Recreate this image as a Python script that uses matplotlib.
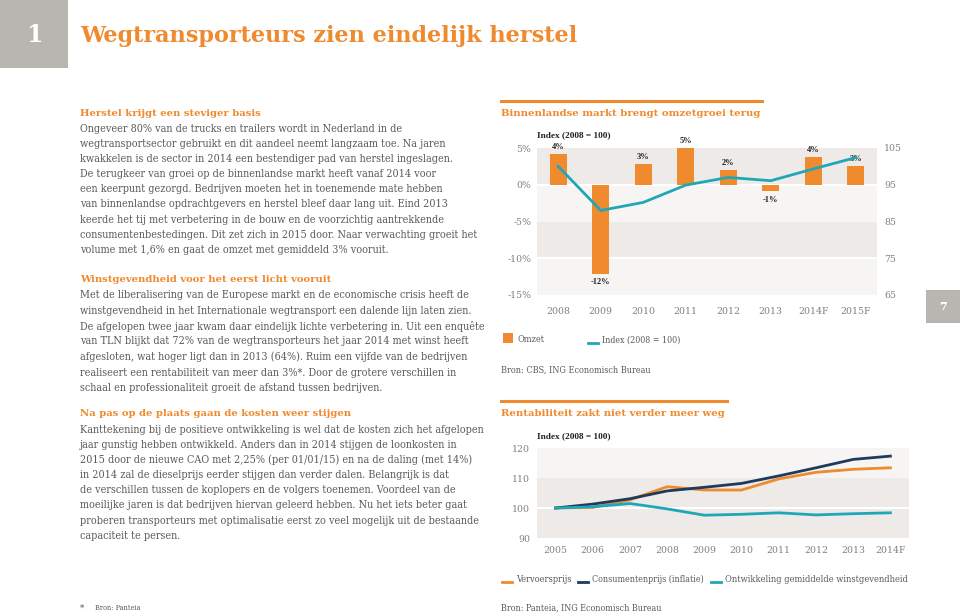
import matplotlib
matplotlib.use("Agg")
import matplotlib.pyplot as plt
from matplotlib import font_manager
from matplotlib.font_manager import FontProperties

W, H = 960, 616
ORANGE = "#EF8A2E"
TEAL = "#1FA7B8"
NAVY = "#1E3A5C"
BAND_D = "#EDEAE7"
BAND_L = "#F6F5F3"
TXT = "#5A5A5A"
TICK = "#808080"
SLAB = "DejaVu Serif"

_fp = font_manager.findfont(FontProperties(family="DejaVu Serif", stretch="condensed"))
if "Condensed" in _fp:
    BODY_KW = dict(family="DejaVu Serif", stretch="condensed")
else:
    BODY_KW = dict(family="Liberation Serif")

# ---------------- data ----------------
years1 = ["2008", "2009", "2010", "2011", "2012", "2013", "2014F", "2015F"]
omzet = [4.2, -12.1, 2.8, 5.0, 2.0, -0.9, 3.8, 2.6]
omzet_labels = ["4%", "-12%", "3%", "5%", "2%", "-1%", "4%", "3%"]
index1 = [100.0, 88.0, 90.2, 94.9, 97.0, 96.1, 99.3, 102.4]
left_ticks = [5, 0, -5, -10, -15]
right_ticks = [105, 95, 85, 75, 65]

years2 = ["2005", "2006", "2007", "2008", "2009", "2010", "2011", "2012", "2013", "2014F"]
vervoersprijs = [100.0, 100.2, 102.7, 107.1, 106.0, 106.0, 109.7, 111.9, 112.9, 113.4]
consumentenprijs = [100.0, 101.3, 103.1, 105.7, 106.9, 108.2, 110.7, 113.4, 116.2, 117.3]
winstgevendheid = [100.0, 100.4, 101.5, 99.7, 97.6, 97.9, 98.4, 97.7, 98.1, 98.4]
ticks2 = [90, 100, 110, 120]

title = "Wegtransporteurs zien eindelijk herstel"
sections = [
    ("Herstel krijgt een steviger basis", [
        "Ongeveer 80% van de trucks en trailers wordt in Nederland in de",
        "wegtransportsector gebruikt en dit aandeel neemt langzaam toe. Na jaren",
        "kwakkelen is de sector in 2014 een bestendiger pad van herstel ingeslagen.",
        "De terugkeer van groei op de binnenlandse markt heeft vanaf 2014 voor",
        "een keerpunt gezorgd. Bedrijven moeten het in toenemende mate hebben",
        "van binnenlandse opdrachtgevers en herstel bleef daar lang uit. Eind 2013",
        "keerde het tij met verbetering in de bouw en de voorzichtig aantrekkende",
        "consumentenbestedingen. Dit zet zich in 2015 door. Naar verwachting groeit het",
        "volume met 1,6% en gaat de omzet met gemiddeld 3% vooruit.",
    ]),
    ("Winstgevendheid voor het eerst licht vooruit", [
        "Met de liberalisering van de Europese markt en de economische crisis heeft de",
        "winstgevendheid in het Internationale wegtransport een dalende lijn laten zien.",
        "De afgelopen twee jaar kwam daar eindelijk lichte verbetering in. Uit een enquête",
        "van TLN blijkt dat 72% van de wegtransporteurs het jaar 2014 met winst heeft",
        "afgesloten, wat hoger ligt dan in 2013 (64%). Ruim een vijfde van de bedrijven",
        "realiseert een rentabiliteit van meer dan 3%*. Door de grotere verschillen in",
        "schaal en professionaliteit groeit de afstand tussen bedrijven.",
    ]),
    ("Na pas op de plaats gaan de kosten weer stijgen", [
        "Kanttekening bij de positieve ontwikkeling is wel dat de kosten zich het afgelopen",
        "jaar gunstig hebben ontwikkeld. Anders dan in 2014 stijgen de loonkosten in",
        "2015 door de nieuwe CAO met 2,25% (per 01/01/15) en na de daling (met 14%)",
        "in 2014 zal de dieselprijs eerder stijgen dan verder dalen. Belangrijk is dat",
        "de verschillen tussen de koplopers en de volgers toenemen. Voordeel van de",
        "moeilijke jaren is dat bedrijven hiervan geleerd hebben. Nu het iets beter gaat",
        "proberen transporteurs met optimalisatie eerst zo veel mogelijk uit de bestaande",
        "capaciteit te persen.",
    ]),
]

fig = plt.figure(figsize=(W / 100, H / 100), dpi=100)
fig.patch.set_facecolor("white")
renderer = fig.canvas.get_renderer()


def put(x, y, s, size, target_w=None, **kw):
    kw.setdefault("va", "center")
    t = fig.text(x / W, 1 - y / H, s, fontsize=size, **kw)
    if target_w:
        w = t.get_window_extent(renderer).width
        t.set_fontsize(size * target_w / w)
    return t


def px_rect(x0, y0, x1, y1):
    return [x0 / W, 1 - y1 / H, (x1 - x0) / W, (y1 - y0) / H]


def box(x0, y0, x1, y1, color):
    a = fig.add_axes(px_rect(x0, y0, x1, y1))
    a.set_facecolor(color)
    a.set_xticks([]); a.set_yticks([])
    for s in a.spines.values():
        s.set_visible(False)
    return a


def style_labels(labels):
    for lab in labels:
        lab.set_family(BODY_KW["family"])
        if "stretch" in BODY_KW:
            lab.set_stretch(BODY_KW["stretch"])


# ---------------- header ----------------
box(0, 0, 68, 68, "#B9B6B2")
put(34, 35, "1", 17, ha="center", color="white", family=SLAB, weight="bold")
put(80, 36, title, 16, target_w=498, color=ORANGE, family=SLAB, weight="bold")

# ---------------- left text column ----------------
starts = [(114, 129, 15.1), (279, 295, 15.5), (414, 430, 15.1)]
ref = put(80, 129, sections[0][1][0], 8, target_w=322, color=TXT, **BODY_KW)
body_size = ref.get_fontsize()
ref.remove()
head_ref = put(80, 114, sections[0][0], 8, target_w=181, color=ORANGE, family=SLAB, weight="bold")
head_size = head_ref.get_fontsize()
head_ref.remove()
for (hy, ly, sp), (head, lines) in zip(starts, sections):
    put(80, hy, head, head_size, color=ORANGE, family=SLAB, weight="bold")
    for i, line in enumerate(lines):
        put(80, ly + i * sp, line, body_size, color=TXT, **BODY_KW)

put(80, 608, "*", 7, color=TXT, **BODY_KW)
put(95, 608, "Bron: Panteia", 7, target_w=45, color=TXT, **BODY_KW)

# ---------------- chart 1 ----------------
fig.add_artist(plt.Line2D([501 / W, 762 / W], [1 - 101 / H] * 2, color=ORANGE, lw=2.2))
put(501, 114, "Binnenlandse markt brengt omzetgroei terug", head_size, target_w=260,
    color=ORANGE, family=SLAB, weight="bold")

ax1 = fig.add_axes(px_rect(537, 148, 877, 295))
ax1.set_xlim(-0.5, len(years1) - 0.5)
ax1.set_ylim(-15, 5)
ax1.axhspan(0, 5, color=BAND_D, lw=0)
ax1.axhspan(-5, 0, color=BAND_L, lw=0)
ax1.axhspan(-10, -5, color=BAND_D, lw=0)
ax1.axhspan(-15, -10, color=BAND_L, lw=0)
for yv in (0, -10):
    ax1.axhline(yv, color="white", lw=1.5)
x1 = list(range(len(years1)))
ax1.bar(x1, omzet, width=0.4, color=ORANGE, zorder=3)
for xi, v, lab in zip(x1, omzet, omzet_labels):
    ax1.annotate(lab, (xi, v), xytext=(0, 2 if v >= 0 else -3), textcoords="offset points",
                 ha="center", va="bottom" if v >= 0 else "top", fontsize=6,
                 family="Liberation Serif", weight="bold", color="#222222", zorder=5)
ax1.set_yticks(left_ticks)
ax1.set_yticklabels([f"{t}%" for t in left_ticks])
ax1.set_xticks(x1)
ax1.set_xticklabels(years1)
ax1.tick_params(length=0, labelsize=7.5, colors=TICK, pad=4)
ax1.tick_params(axis="x", pad=9)
for s in ax1.spines.values():
    s.set_visible(False)
style_labels(ax1.get_xticklabels() + ax1.get_yticklabels())

ax1r = ax1.twinx()
ax1r.set_ylim(65, 105)
ax1r.plot(x1, index1, color=TEAL, lw=2, zorder=4)
ax1r.set_yticks(right_ticks)
ax1r.tick_params(length=0, labelsize=7.5, colors=TICK, pad=5)
for s in ax1r.spines.values():
    s.set_visible(False)
style_labels(ax1r.get_yticklabels())

put(537, 135, "Index (2008 = 100)", 6.8, target_w=74, color="#222222",
    family="Liberation Serif", weight="bold")

# legend chart 1
box(503, 333, 513, 343, ORANGE)
put(517, 340, "Omzet", 7, target_w=27, color=TXT, **BODY_KW)
fig.add_artist(plt.Line2D([588 / W, 598 / W], [1 - 343 / H] * 2, color=TEAL, lw=2))
put(602, 340, "Index (2008 = 100)", 7, target_w=79, color=TXT, **BODY_KW)
put(501, 370, "Bron: CBS, ING Economisch Bureau", 7, target_w=149, color=TXT, **BODY_KW)

# page number box
box(926, 290, 960, 323, "#B9B6B2")
put(943, 307, "7", 8, ha="center", color="white", family=SLAB, weight="bold")

# ---------------- chart 2 ----------------
fig.add_artist(plt.Line2D([501 / W, 727 / W], [1 - 401 / H] * 2, color=ORANGE, lw=2.2))
put(501, 414, "Rentabiliteit zakt niet verder meer weg", head_size, target_w=226,
    color=ORANGE, family=SLAB, weight="bold")

ax2 = fig.add_axes(px_rect(537, 448, 909, 538))
ax2.set_xlim(-0.5, len(years2) - 0.5)
ax2.set_ylim(90, 120)
ax2.axhspan(110, 120, color=BAND_L, lw=0)
ax2.axhspan(90, 110, color=BAND_D, lw=0)
ax2.axhline(100, color="white", lw=1.5)
x2 = list(range(len(years2)))
ax2.plot(x2, vervoersprijs, color=ORANGE, lw=2, zorder=3)
ax2.plot(x2, consumentenprijs, color=NAVY, lw=2, zorder=3)
ax2.plot(x2, winstgevendheid, color=TEAL, lw=2, zorder=3)
ax2.set_yticks(ticks2)
ax2.set_xticks(x2)
ax2.set_xticklabels(years2)
ax2.tick_params(length=0, labelsize=7.5, colors=TICK, pad=5)
ax2.tick_params(axis="x", pad=6)
for s in ax2.spines.values():
    s.set_visible(False)
style_labels(ax2.get_xticklabels() + ax2.get_yticklabels())

put(537, 436, "Index (2008 = 100)", 6.8, target_w=74, color="#222222",
    family="Liberation Serif", weight="bold")

for (x0, x1_, col, tx, lab, tw) in [(502, 512, ORANGE, 516, "Vervoersprijs", 56),
                                     (578, 588, NAVY, 592, "Consumentenprijs (inflatie)", 112),
                                     (711, 721, TEAL, 725, "Ontwikkeling gemiddelde winstgevendheid", 182)]:
    fig.add_artist(plt.Line2D([x0 / W, x1_ / W], [1 - 582 / H] * 2, color=col, lw=2))
    put(tx, 579, lab, 7, target_w=tw, color=TXT, **BODY_KW)
put(501, 608, "Bron: Panteia, ING Economisch Bureau", 7, target_w=161, color=TXT, **BODY_KW)

fig.savefig("out.png", dpi=100)
